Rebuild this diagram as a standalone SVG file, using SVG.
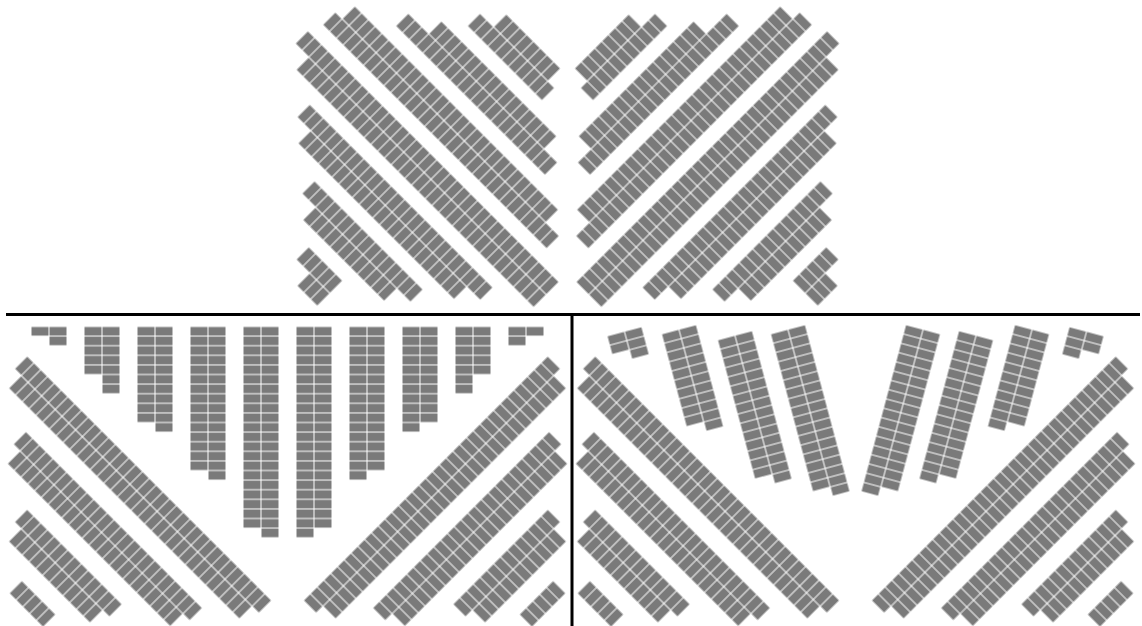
<svg xmlns="http://www.w3.org/2000/svg" width="1142" height="626" viewBox="0 0 1142 626">
<style>
.d{fill:url(#pd)}
.c{fill:url(#pc)}
.ln{stroke:#000;stroke-width:3;fill:none}
</style>
<defs>
<pattern id="pd" width="9.6" height="18" patternUnits="userSpaceOnUse"><rect x="0.5" y="0.5" width="8.6" height="17" fill="#7a7a7a"/></pattern>
<pattern id="pc" width="18" height="9.6" patternUnits="userSpaceOnUse"><rect x="0.5" y="0.5" width="17" height="8.6" fill="#7a7a7a"/></pattern>
<g id="diag" transform="rotate(45)">
<rect class="d" transform="translate(271,232.5)" width="345.6" height="18"/>
<rect class="d" transform="translate(280.6,250.5)" width="326.4" height="18"/>
<rect class="d" transform="translate(323.4,286.7)" width="249.6" height="18"/>
<rect class="d" transform="translate(333,304.7)" width="230.4" height="18"/>
<rect class="d" transform="translate(379.3,340.9)" width="134.4" height="18"/>
<rect class="d" transform="translate(388.9,358.9)" width="115.2" height="18"/>
<rect class="d" transform="translate(426,395.1)" width="48" height="18"/>
</g>
</defs>
<rect width="1142" height="626" fill="#fff"/>

<g id="top-panel">
<g id="top-left" transform="rotate(45)">
<rect class="d" transform="translate(392.8,-43.84)" width="48" height="18"/>
<rect class="d" transform="translate(412,-25.84)" width="28.8" height="18"/>
<rect class="d" transform="translate(350.3,-94.54)" width="153.6" height="18"/>
<rect class="d" transform="translate(369.5,-76.54)" width="115.2" height="18"/>
<rect class="d" transform="translate(292.8,-145.24)" width="259.2" height="18"/>
<rect class="d" transform="translate(312,-127.24)" width="220.8" height="18"/>
<rect class="d" transform="translate(239.5,-195.94)" width="355.2" height="18"/>
<rect class="d" transform="translate(258.7,-177.94)" width="336" height="18"/>
<rect class="d" transform="translate(255.2,-246.64)" width="288" height="18"/>
<rect class="d" transform="translate(245.6,-228.64)" width="316.8" height="18"/>
<rect class="d" transform="translate(326.9,-297.34)" width="163.2" height="18"/>
<rect class="d" transform="translate(298.1,-279.34)" width="211.2" height="18"/>
<rect class="d" transform="translate(368,-348.04)" width="76.8" height="18"/>
<rect class="d" transform="translate(348.8,-330.04)" width="105.6" height="18"/>
</g>
<use href="#top-left" transform="translate(1135,0) scale(-1,1)"/>
</g>

<g id="lower-left-panel">
<g id="ll-half">
<g transform="translate(31,326.5)"><rect class="c" width="18" height="9.6"/><rect class="c" x="18" width="18" height="19.2"/></g>
<g transform="translate(84,326.5)"><rect class="c" width="18" height="48"/><rect class="c" x="18" width="18" height="67.2"/></g>
<g transform="translate(137,326.5)"><rect class="c" width="18" height="96"/><rect class="c" x="18" width="18" height="105.6"/></g>
<g transform="translate(190,326.5)"><rect class="c" width="18" height="144"/><rect class="c" x="18" width="18" height="153.6"/></g>
<g transform="translate(243,326.5)"><rect class="c" width="18" height="201.6"/><rect class="c" x="18" width="18" height="211.2"/></g>
<use href="#diag"/>
</g>
<use href="#ll-half" transform="translate(575,0) scale(-1,1)"/>
</g>

<g id="lower-right-panel">
<g id="lr-half">
<g transform="translate(607,336) rotate(-15)"><rect class="c" width="18" height="19.2"/><rect class="c" x="18" width="18" height="28.8"/></g>
<g transform="translate(661.5,334) rotate(-15)"><rect class="c" width="18" height="96"/><rect class="c" x="18" width="18" height="105.6"/></g>
<g transform="translate(717.5,340) rotate(-15)"><rect class="c" width="18" height="144"/><rect class="c" x="18" width="18" height="153.6"/></g>
<g transform="translate(770.5,334) rotate(-15)"><rect class="c" width="18" height="163.2"/><rect class="c" x="18" width="18" height="172.8"/></g>
<use href="#diag" transform="translate(568,0)"/>
</g>
<use href="#lr-half" transform="translate(1711,0) scale(-1,1)"/>
</g>

<g id="dividers">
<line class="ln" x1="6" y1="314.5" x2="1140" y2="314.5"/>
<line class="ln" x1="572" y1="314.5" x2="572" y2="626"/>
</g>
</svg>
